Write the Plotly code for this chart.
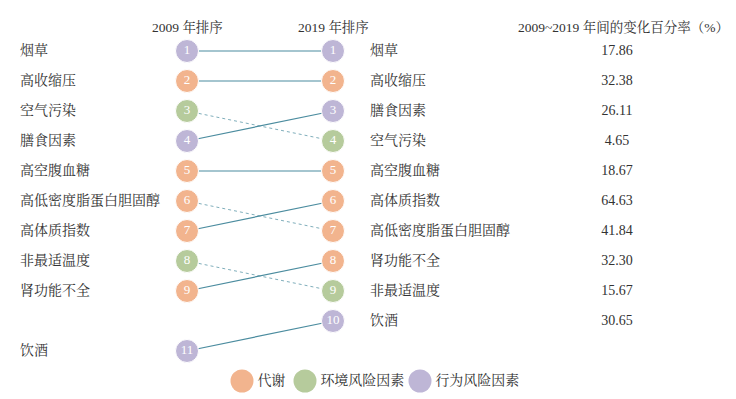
import plotly.graph_objects as go

factors = ["烟草", "高收缩压", "空气污染", "膳食因素", "高空腹血糖",
           "高低密度脂蛋白胆固醇", "高体质指数", "非最适温度", "肾功能不全", "饮酒"]
rank_2009 = [1, 2, 3, 4, 5, 6, 7, 8, 9, 11]
rank_2019 = [1, 2, 4, 3, 5, 7, 6, 9, 8, 10]
category = ["行为风险因素", "代谢", "环境风险因素", "行为风险因素", "代谢",
            "代谢", "代谢", "环境风险因素", "代谢", "行为风险因素"]
change_pct = [17.86, 32.38, 4.65, 26.11, 18.67, 41.84, 64.63, 15.67, 32.30, 30.65]
legend_names = ["代谢", "环境风险因素", "行为风险因素"]
colors = {"代谢": "#F2B48E", "环境风险因素": "#B6CB9C", "行为风险因素": "#BEB6D6"}

FONT = "Liberation Serif, 'Noto Serif CJK SC', 'Noto Sans CJK SC', serif"
TXT = "#333333"

W, H = 728, 391  # page body has an 8px margin
X0, DX = 179, 146

fig = go.Figure()

# connecting lines
for f, r0, r1 in zip(factors, rank_2009, rank_2019):
    worse = r1 > r0
    fig.add_trace(go.Scatter(
        x=[0, 1], y=[r0, r1], mode="lines", hoverinfo="skip", showlegend=False,
        line=dict(color="#7FAEBB" if worse else "#4B8C9F", width=1.0 if worse else 1.2,
                  dash="dot" if worse else "solid")))

# circles
for xval, ranks in [(0, rank_2009), (1, rank_2019)]:
    fig.add_trace(go.Scatter(
        x=[xval] * len(ranks), y=ranks, mode="markers+text",
        text=[str(r) for r in ranks], textposition="middle center",
        textfont=dict(family=FONT, size=13, color="white"),
        marker=dict(size=23, color=[colors[c] for c in category],
                    line=dict(color="white", width=1)),
        showlegend=False, hoverinfo="skip"))

# left labels
fig.add_trace(go.Scatter(
    x=[(12 - X0) / DX] * len(factors), y=rank_2009, mode="text", text=factors,
    textposition="middle right", textfont=dict(family=FONT, size=14, color=TXT),
    showlegend=False, hoverinfo="skip"))
# right labels
fig.add_trace(go.Scatter(
    x=[(362 - X0) / DX] * len(factors), y=rank_2019, mode="text", text=factors,
    textposition="middle right", textfont=dict(family=FONT, size=14, color=TXT),
    showlegend=False, hoverinfo="skip"))
# values
fig.add_trace(go.Scatter(
    x=[(609 - X0) / DX] * len(factors), y=rank_2019, mode="text",
    text=[f"{v:.2f}" for v in change_pct],
    textposition="middle center", textfont=dict(family=FONT, size=14, color=TXT),
    showlegend=False, hoverinfo="skip"))

# legend (manual)
leg_px = [234, 297, 412]
fig.add_trace(go.Scatter(
    x=[(p - X0) / DX for p in leg_px], y=[12.0] * 3, mode="markers+text", text=legend_names,
    textposition="middle right",
    textfont=dict(family=FONT, size=14, color=TXT),
    marker=dict(size=23, color=[colors[n] for n in legend_names]),
    showlegend=False, hoverinfo="skip"))

headers = [(0, "2009 年排序"), (1, "2019 年排序"), ((615 - X0) / DX, "2009~2019 年间的变化百分率（%）")]
for hx, ht in headers:
    fig.add_annotation(x=hx, y=0.2, text=ht, showarrow=False, xanchor="center",
                       yanchor="middle", font=dict(family=FONT, size=13.5, color=TXT))

fig.update_layout(
    width=W, height=H, margin=dict(l=0, r=0, t=0, b=0),
    paper_bgcolor="white", plot_bgcolor="white",
    xaxis=dict(range=[-X0 / DX, (W - X0) / DX], visible=False, fixedrange=True),
    yaxis=dict(range=[(H - 13) / 30, -13 / 30], visible=False, fixedrange=True),
)

fig.write_html("out.html")
